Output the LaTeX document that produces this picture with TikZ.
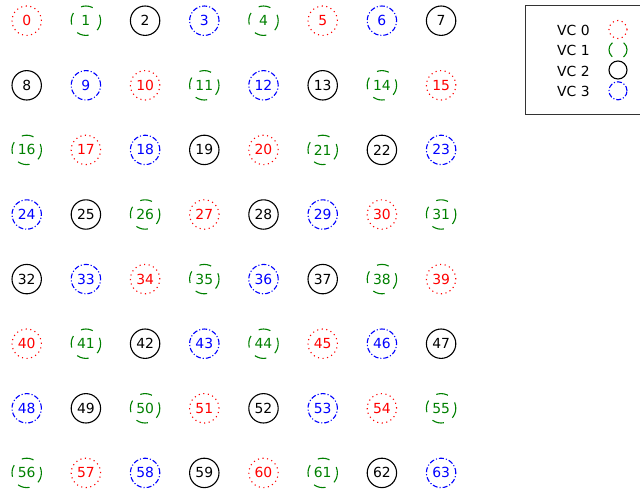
\documentclass[tikz,border=0pt]{standalone}
\usepackage{fontspec}
\setmainfont{DejaVu Sans}
\definecolor{vcgreen}{RGB}{0,128,0}
\tikzset{
  vc/.style={circle,minimum size=29.4pt,inner sep=0pt,line width=1.1pt,
    font=\fontsize{13.9}{16}\selectfont},
  vc0/.style={draw=red,text=red,dash pattern=on 1.1pt off 3.5pt},
  vc1/.style={draw=vcgreen,text=vcgreen,dash pattern=on 12pt off 10pt,dash phase=6pt},
  vc2/.style={draw=black,text=black,solid},
  vc3/.style={draw=blue,text=blue,dash pattern=on 5pt off 2pt on 1.1pt off 2pt},
  legendmark/.style={circle,minimum size=18pt,inner sep=0pt,line width=1.1pt},
  legendtext/.style={anchor=west,inner sep=0pt,font=\fontsize{13.9}{16}\selectfont}
}
\begin{document}
\begin{tikzpicture}[x=1pt,y=1pt]
\useasboundingbox (0,0) rectangle (640,-491);
% router grid, one list of virtual channels per row:
\foreach \r/\row in {0/{0,1,2,3,1,0,3,2},1/{2,3,0,1,3,2,1,0},
                     2/{1,0,3,2,0,1,2,3},3/{3,2,1,0,2,3,0,1},
                     4/{2,3,0,1,3,2,1,0},5/{0,1,2,3,1,0,3,2},
                     6/{3,2,1,0,2,3,0,1},7/{1,0,3,2,0,1,2,3}}
  \foreach \v [count=\c from 0] in \row {
    \pgfmathtruncatemacro{\n}{8*\r+\c}
    \node[vc,vc\v] (n\n) at (26.7+59.2*\c,-20.7-64.6*\r) {\n};
  }
% legend:
\draw[black!80,line width=0.9pt] (525,-5) rectangle (650,-114);
\foreach \v/\y in {0/30.5,1/50.8,2/71,3/91.8}
  \node[legendtext] (lt\v) at (557,-\y) {VC \v};
\node[legendmark,vc0] (lm0) at (618,-29.5) {};
\node[legendmark,vc1,dash pattern=on 16pt off 12pt,dash phase=8pt] (lm1) at (618,-49.8) {};
\node[legendmark,vc2] (lm2) at (618,-70) {};
\node[legendmark,vc3] (lm3) at (618,-90.8) {};
\end{tikzpicture}
\end{document}
